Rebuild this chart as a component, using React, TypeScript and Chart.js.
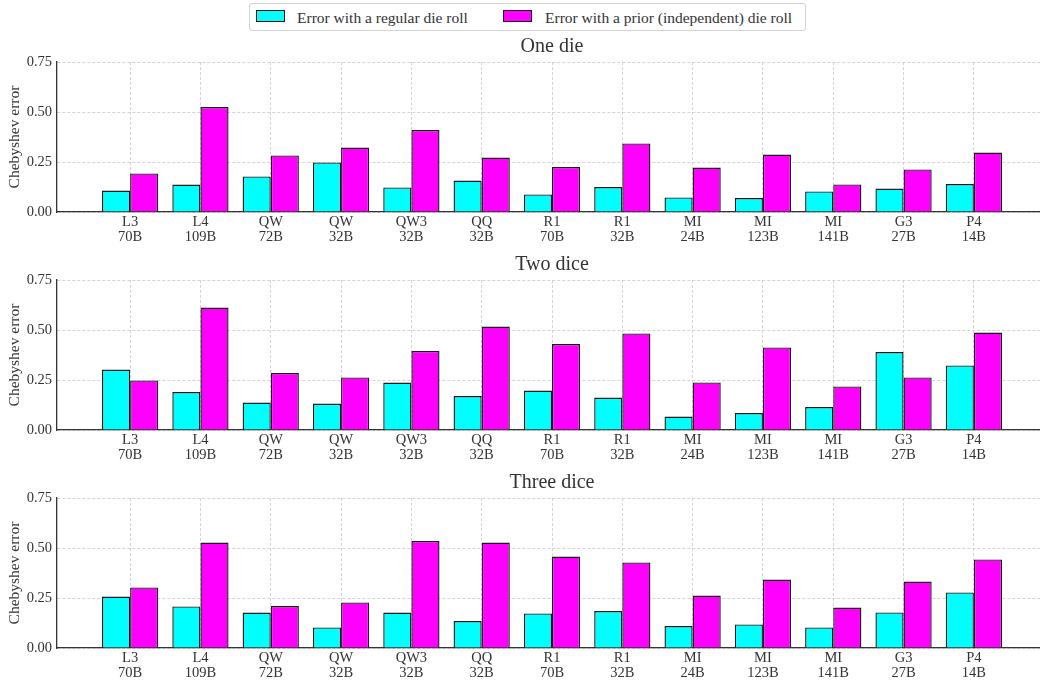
import React, { useEffect, useRef } from 'react';
import { Chart, registerables } from 'chart.js';

Chart.register(...registerables);

const modelNames = ['L3', 'L4', 'QW', 'QW', 'QW3', 'QQ', 'R1', 'R1', 'MI', 'MI', 'MI', 'G3', 'P4'];
const modelSizes = ['70B', '109B', '72B', '32B', '32B', '32B', '70B', '32B', '24B', '123B', '141B', '27B', '14B'];
const panelTitles = ['One die', 'Two dice', 'Three dice'];
const seriesLabels = ['Error with a regular die roll', 'Error with a prior (independent) die roll'];
const yTicks = [0, 0.25, 0.5, 0.75];

const regularOne = [0.107, 0.137, 0.178, 0.248, 0.123, 0.157, 0.088, 0.125, 0.073, 0.070, 0.103, 0.117, 0.140];
const priorOne = [0.193, 0.525, 0.283, 0.322, 0.410, 0.272, 0.225, 0.343, 0.222, 0.287, 0.138, 0.213, 0.297];
const regularTwo = [0.302, 0.190, 0.137, 0.132, 0.237, 0.170, 0.197, 0.162, 0.067, 0.085, 0.115, 0.390, 0.323];
const priorTwo = [0.248, 0.612, 0.285, 0.263, 0.395, 0.517, 0.430, 0.483, 0.238, 0.413, 0.218, 0.263, 0.487];
const regularThree = [0.257, 0.208, 0.177, 0.103, 0.177, 0.135, 0.173, 0.185, 0.110, 0.118, 0.103, 0.178, 0.278];
const priorThree = [0.303, 0.527, 0.210, 0.228, 0.535, 0.527, 0.457, 0.428, 0.262, 0.342, 0.202, 0.332, 0.443];

const FONT = "'Liberation Serif', 'Times New Roman', serif";
const TEXT = '#333';
const CYAN = '#00ffff';
const MAGENTA = '#ff00ff';
const EDGE = '#1a1a1a';
const GRID = '#c9c9c9';
const AXIS = '#333';
const CANVAS_W = 1047;
const CANVAS_H = 217;

function Panel(props: { title: string; regular: number[]; prior: number[]; top: number }) {
  const ref = useRef<HTMLCanvasElement>(null);
  useEffect(() => {
    const chart = new Chart(ref.current as HTMLCanvasElement, {
      type: 'bar',
      data: {
        datasets: [
          {
            label: seriesLabels[0],
            data: props.regular.map((y, i) => ({ x: i, y })),
            backgroundColor: CYAN,
            borderColor: EDGE,
            borderWidth: 1.4,
            categoryPercentage: 0.8,
            barPercentage: 1,
          },
          {
            label: seriesLabels[1],
            data: props.prior.map((y, i) => ({ x: i, y })),
            backgroundColor: MAGENTA,
            borderColor: EDGE,
            borderWidth: 1.4,
            categoryPercentage: 0.8,
            barPercentage: 1,
          },
        ],
      } as any,
      options: {
        responsive: false,
        animation: false,
        devicePixelRatio: 1,
        layout: { padding: 0 },
        plugins: {
          legend: { display: false },
          tooltip: { enabled: false },
          title: {
            display: true,
            text: props.title,
            fullSize: false,
            color: TEXT,
            font: { family: FONT, size: 20, weight: 'normal' },
            padding: { top: 3, bottom: 3 },
          },
        },
        scales: {
          x: {
            type: 'linear',
            min: -1.04,
            max: 13.04,
            bounds: 'data',
            offset: false,
            afterBuildTicks: (axis: any) => {
              axis.ticks = modelNames.map((_, i) => ({ value: i }));
            },
            afterFit: (s: any) => {
              s.height = 37;
            },
            ticks: {
              autoSkip: false,
              maxRotation: 0,
              padding: 3,
              color: TEXT,
              font: { family: FONT, size: 14.5, lineHeight: 1.0 },
              callback: (v: any) => [modelNames[v], modelSizes[v]],
            },
            grid: { color: GRID, lineWidth: 0.8, drawTicks: false, offset: false },
            border: { display: true, color: AXIS, width: 1.3, dash: [3, 2] },
          },
          y: {
            min: 0,
            max: 0.75,
            afterBuildTicks: (axis: any) => {
              axis.ticks = yTicks.map((v) => ({ value: v }));
            },
            afterFit: (s: any) => {
              s.width = 57;
            },
            ticks: {
              padding: 5,
              color: TEXT,
              font: { family: FONT, size: 14.5 },
              callback: (v: any) => Number(v).toFixed(2),
            },
            grid: { color: GRID, lineWidth: 0.8, drawTicks: false },
            border: { display: true, color: AXIS, width: 1.3, dash: [3, 2] },
            title: {
              display: true,
              text: 'Chebyshev error',
              color: TEXT,
              font: { family: FONT, size: 15.5 },
              padding: { top: 6, bottom: 0 },
            },
          },
        },
      } as any,
    });
    return () => chart.destroy();
  }, []);
  return (
    <canvas
      ref={ref}
      width={CANVAS_W}
      height={CANVAS_H}
      style={{ position: 'absolute', left: 0, top: props.top, width: CANVAS_W, height: CANVAS_H, display: 'block' }}
    />
  );
}

function Legend() {
  const swatch = (left: number, color: string) => (
    <div
      style={{
        position: 'absolute',
        left,
        top: 6,
        width: 29,
        height: 12,
        background: color,
        border: '1px solid #111',
        boxSizing: 'border-box',
      }}
    />
  );
  const label = (left: number, text: string) => (
    <div
      style={{
        position: 'absolute',
        left,
        top: 1,
        height: 26,
        lineHeight: '26px',
        fontFamily: FONT,
        fontSize: 15.5,
        color: TEXT,
        whiteSpace: 'nowrap',
      }}
    >
      {text}
    </div>
  );
  return (
    <div
      style={{
        position: 'absolute',
        left: 249,
        top: 3,
        width: 557,
        height: 28,
        border: '1px solid #d3d3d3',
        borderRadius: 3,
        boxSizing: 'border-box',
        background: '#fff',
      }}
    >
      {swatch(6, CYAN)}
      {label(47, seriesLabels[0])}
      {swatch(253, MAGENTA)}
      {label(295, seriesLabels[1])}
    </div>
  );
}

export default function App() {
  const regulars = [regularOne, regularTwo, regularThree];
  const priors = [priorOne, priorTwo, priorThree];
  const tops = [32, 250, 468];
  return (
    <div style={{ position: 'absolute', left: 0, top: 0, width: 1040, height: 683, background: '#fff', overflow: 'hidden' }}>
      <Legend />
      {panelTitles.map((t, k) => (
        <Panel key={t} title={t} regular={regulars[k]} prior={priors[k]} top={tops[k]} />
      ))}
    </div>
  );
}
